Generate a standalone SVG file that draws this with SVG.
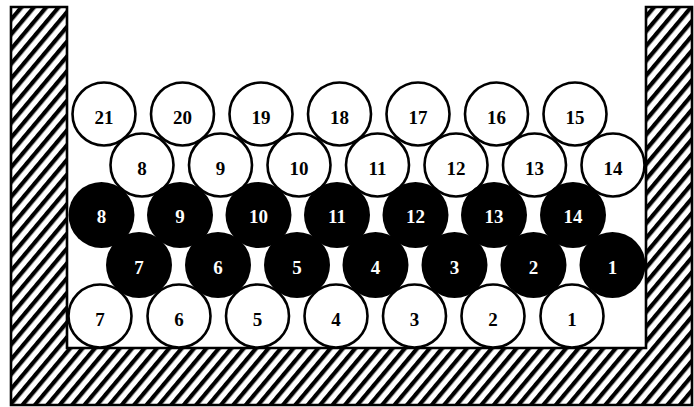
<svg xmlns="http://www.w3.org/2000/svg" width="694" height="407" viewBox="0 0 694 407">
<defs>
<pattern id="hatch" patternUnits="userSpaceOnUse" width="9.5" height="10" patternTransform="rotate(40)">
<rect x="0" y="0" width="9.5" height="10" fill="#fff"/>
<rect x="0" y="0" width="4.2" height="10" fill="#000"/>
</pattern>
</defs>
<style>
.w circle{fill:#fff;stroke:#000;stroke-width:2.6}
.b circle{fill:#000}
text{font-family:"Liberation Serif","Times New Roman",serif;font-weight:bold;font-size:19px;text-anchor:middle}
.w text{fill:#000}
.b text{fill:#fff}
</style>
<rect width="694" height="407" fill="#fff"/>
<g id="container">
<path d="M11,7 H67 V348 H646 V7 H692 V405 H11 Z" fill="url(#hatch)" stroke="#000" stroke-width="2.6" stroke-linejoin="miter"/>
</g>
<g id="connectors"></g>
<g id="row1">
<g id="t21" class="w"><circle cx="104" cy="114" r="31.5"/><text x="104" y="124">21</text></g>
<g id="t20" class="w"><circle cx="182.5" cy="114" r="31.5"/><text x="182.5" y="124">20</text></g>
<g id="t19" class="w"><circle cx="261" cy="114" r="31.5"/><text x="261" y="124">19</text></g>
<g id="t18" class="w"><circle cx="339.5" cy="114" r="31.5"/><text x="339.5" y="124">18</text></g>
<g id="t17" class="w"><circle cx="418" cy="114" r="31.5"/><text x="418" y="124">17</text></g>
<g id="t16" class="w"><circle cx="496.5" cy="114" r="31.5"/><text x="496.5" y="124">16</text></g>
<g id="t15" class="w"><circle cx="575" cy="114" r="31.5"/><text x="575" y="124">15</text></g>
</g>
<g id="row2">
<g id="u8" class="w"><circle cx="142" cy="165" r="31.5"/><text x="142" y="175">8</text></g>
<g id="u9" class="w"><circle cx="220.5" cy="165" r="31.5"/><text x="220.5" y="175">9</text></g>
<g id="u10" class="w"><circle cx="299" cy="165" r="31.5"/><text x="299" y="175">10</text></g>
<g id="u11" class="w"><circle cx="377.5" cy="165" r="31.5"/><text x="377.5" y="175">11</text></g>
<g id="u12" class="w"><circle cx="456" cy="165" r="31.5"/><text x="456" y="175">12</text></g>
<g id="u13" class="w"><circle cx="534.5" cy="165" r="31.5"/><text x="534.5" y="175">13</text></g>
<g id="u14" class="w"><circle cx="613" cy="165" r="31.5"/><text x="613" y="175">14</text></g>
</g>
<g id="row3">
<g id="b8" class="b"><circle cx="101.5" cy="215" r="33"/><text x="101.5" y="223">8</text></g>
<g id="b9" class="b"><circle cx="180" cy="215" r="33"/><text x="180" y="223">9</text></g>
<g id="b10" class="b"><circle cx="258.5" cy="215" r="33"/><text x="258.5" y="223">10</text></g>
<g id="b11" class="b"><circle cx="337" cy="215" r="33"/><text x="337" y="223">11</text></g>
<g id="b12" class="b"><circle cx="415.5" cy="215" r="33"/><text x="415.5" y="223">12</text></g>
<g id="b13" class="b"><circle cx="494" cy="215" r="33"/><text x="494" y="223">13</text></g>
<g id="b14" class="b"><circle cx="573" cy="215" r="33"/><text x="573" y="223">14</text></g>
</g>
<g id="row4">
<g id="b7" class="b"><circle cx="139" cy="265" r="33"/><text x="139" y="274">7</text></g>
<g id="b6" class="b"><circle cx="218" cy="265" r="33"/><text x="218" y="274">6</text></g>
<g id="b5" class="b"><circle cx="297" cy="265" r="33"/><text x="297" y="274">5</text></g>
<g id="b4" class="b"><circle cx="375.5" cy="265" r="33"/><text x="375.5" y="274">4</text></g>
<g id="b3" class="b"><circle cx="454.5" cy="265" r="33"/><text x="454.5" y="274">3</text></g>
<g id="b2" class="b"><circle cx="533.5" cy="265" r="33"/><text x="533.5" y="274">2</text></g>
<g id="b1" class="b"><circle cx="612.5" cy="265" r="33"/><text x="612.5" y="274">1</text></g>
</g>
<g id="row5">
<g id="w7" class="w"><circle cx="100" cy="316" r="31.5"/><text x="100" y="326">7</text></g>
<g id="w6" class="w"><circle cx="179" cy="316" r="31.5"/><text x="179" y="326">6</text></g>
<g id="w5" class="w"><circle cx="257.5" cy="316" r="31.5"/><text x="257.5" y="326">5</text></g>
<g id="w4" class="w"><circle cx="336" cy="316" r="31.5"/><text x="336" y="326">4</text></g>
<g id="w3" class="w"><circle cx="414.5" cy="316" r="31.5"/><text x="414.5" y="326">3</text></g>
<g id="w2" class="w"><circle cx="493" cy="316" r="31.5"/><text x="493" y="326">2</text></g>
<g id="w1" class="w"><circle cx="572" cy="316" r="31.5"/><text x="572" y="326">1</text></g>
</g>
</svg>
